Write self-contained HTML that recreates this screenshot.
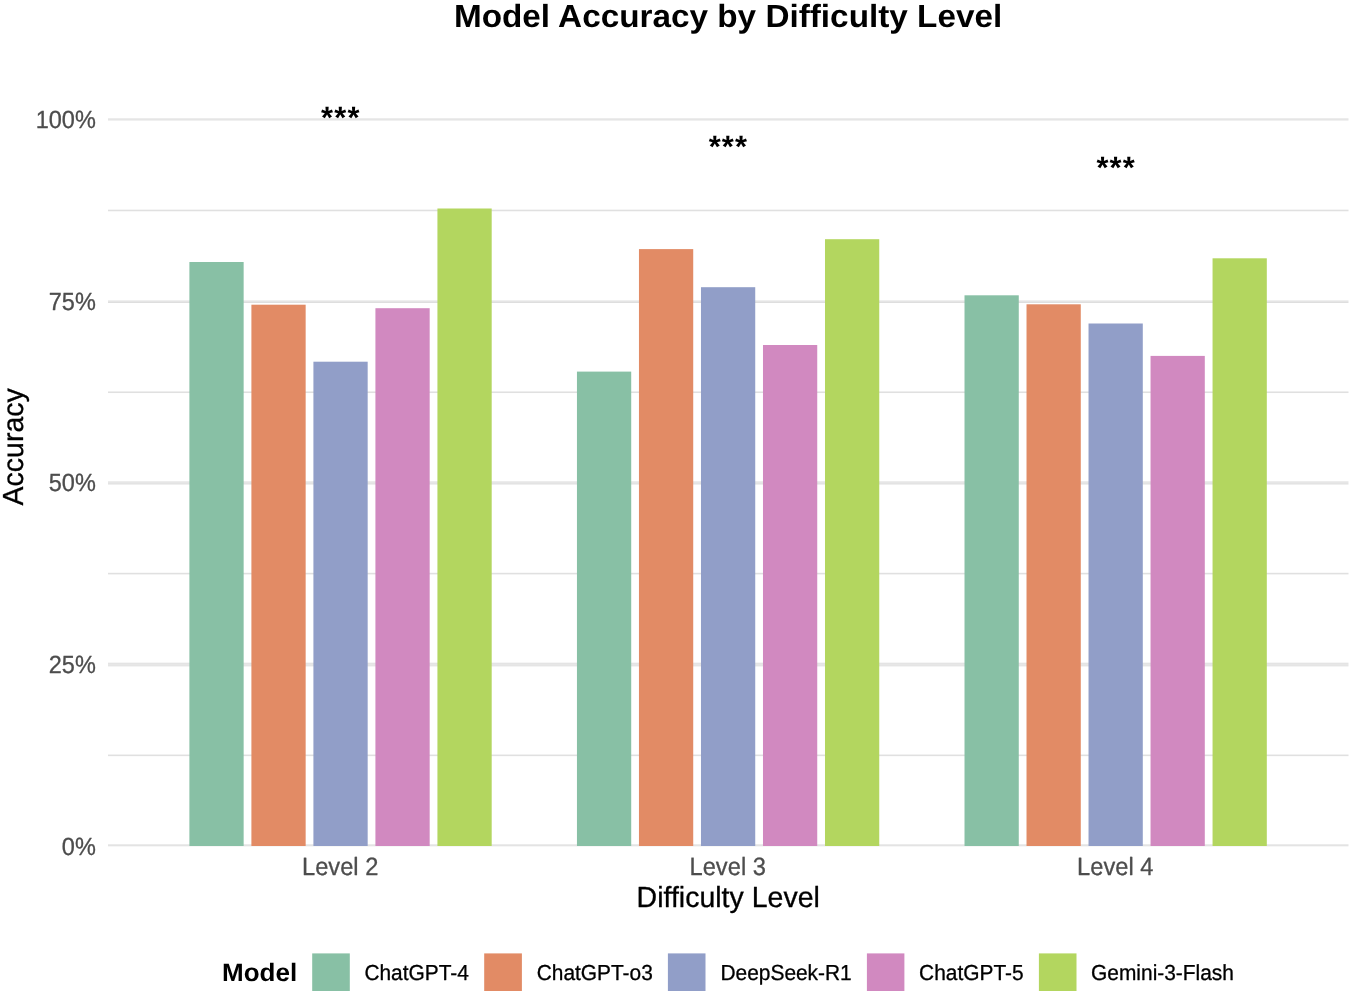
<!DOCTYPE html>
<html><head><meta charset="utf-8"><title>Model Accuracy by Difficulty Level</title>
<style>html,body{margin:0;padding:0;background:#fff;}body{width:1351px;height:994px;overflow:hidden;}
svg{display:block;will-change:transform;transform:translateZ(0);}text{font-family:"Liberation Sans", sans-serif;text-rendering:geometricPrecision;}</style></head><body>
<svg width="1351" height="994" viewBox="0 0 1351 994" role="img" aria-label="Grouped bar chart: model accuracy by difficulty level">
<rect x="0" y="0" width="1351" height="994" fill="#ffffff"/>
<g id="grid">
<rect x="108.0" y="209.66" width="1240.5" height="1.6" fill="#e0e0e0"/>
<rect x="108.0" y="391.46" width="1240.5" height="1.6" fill="#e0e0e0"/>
<rect x="108.0" y="572.80" width="1240.5" height="1.6" fill="#e0e0e0"/>
<rect x="108.0" y="754.54" width="1240.5" height="1.6" fill="#e0e0e0"/>
<rect x="108.0" y="118" width="1240.5" height="1" fill="#ececec"/>
<rect x="108.0" y="119" width="1240.5" height="1" fill="#e5e5e5"/>
<rect x="108.0" y="120" width="1240.5" height="1" fill="#f0f0f0"/>
<rect x="108.0" y="300" width="1240.5" height="1" fill="#efefef"/>
<rect x="108.0" y="301" width="1240.5" height="1" fill="#e5e5e5"/>
<rect x="108.0" y="302" width="1240.5" height="1" fill="#dedede"/>
<rect x="108.0" y="481" width="1240.5" height="1" fill="#ececec"/>
<rect x="108.0" y="482" width="1240.5" height="1" fill="#e6e6e6"/>
<rect x="108.0" y="483" width="1240.5" height="1" fill="#e3e3e3"/>
<rect x="108.0" y="484" width="1240.5" height="1" fill="#efefef"/>
<rect x="108.0" y="662" width="1240.5" height="1" fill="#f6f6f6"/>
<rect x="108.0" y="663" width="1240.5" height="1" fill="#e4e4e4"/>
<rect x="108.0" y="664" width="1240.5" height="1" fill="#e7e7e7"/>
<rect x="108.0" y="665" width="1240.5" height="1" fill="#e5e5e5"/>
<rect x="108.0" y="666" width="1240.5" height="1" fill="#f4f4f4"/>
<rect x="108.0" y="844" width="1240.5" height="1" fill="#ebebeb"/>
<rect x="108.0" y="845" width="1240.5" height="1" fill="#e3e3e3"/>
<rect x="108.0" y="846" width="1240.5" height="1" fill="#f6f6f6"/>
</g>
<g id="bars">
<rect x="189.39" y="262.00" width="54.26" height="584.00" fill="#88C0A5"/>
<rect x="251.40" y="304.70" width="54.26" height="541.30" fill="#E28B65"/>
<rect x="313.41" y="361.70" width="54.26" height="484.30" fill="#919EC8"/>
<rect x="375.42" y="308.20" width="54.26" height="537.80" fill="#D189C0"/>
<rect x="437.43" y="208.50" width="54.26" height="637.50" fill="#B3D65F"/>
<rect x="576.95" y="371.60" width="54.26" height="474.40" fill="#88C0A5"/>
<rect x="638.96" y="249.10" width="54.26" height="596.90" fill="#E28B65"/>
<rect x="700.97" y="287.20" width="54.26" height="558.80" fill="#919EC8"/>
<rect x="762.98" y="345.00" width="54.26" height="501.00" fill="#D189C0"/>
<rect x="824.99" y="239.20" width="54.26" height="606.80" fill="#B3D65F"/>
<rect x="964.51" y="295.30" width="54.26" height="550.70" fill="#88C0A5"/>
<rect x="1026.52" y="304.30" width="54.26" height="541.70" fill="#E28B65"/>
<rect x="1088.53" y="323.50" width="54.26" height="522.50" fill="#919EC8"/>
<rect x="1150.54" y="355.90" width="54.26" height="490.10" fill="#D189C0"/>
<rect x="1212.55" y="258.30" width="54.26" height="587.70" fill="#B3D65F"/>
</g>
<g id="labels">
<text transform="translate(728.05,27.30) scale(1,0.960)" font-size="33.3" text-anchor="middle" fill="#000" font-weight="bold">Model Accuracy by Difficulty Level</text>
<text transform="translate(95.80,127.90) scale(1,1.060)" font-size="23.5" text-anchor="end" fill="#4d4d4d" stroke="#4d4d4d" stroke-width="0.3" stroke-linejoin="round">100%</text>
<text transform="translate(95.80,309.60) scale(1,1.060)" font-size="23.5" text-anchor="end" fill="#4d4d4d" stroke="#4d4d4d" stroke-width="0.3" stroke-linejoin="round">75%</text>
<text transform="translate(95.80,491.20) scale(1,1.060)" font-size="23.5" text-anchor="end" fill="#4d4d4d" stroke="#4d4d4d" stroke-width="0.3" stroke-linejoin="round">50%</text>
<text transform="translate(95.80,673.10) scale(1,1.060)" font-size="23.5" text-anchor="end" fill="#4d4d4d" stroke="#4d4d4d" stroke-width="0.3" stroke-linejoin="round">25%</text>
<text transform="translate(95.80,854.90) scale(1,1.060)" font-size="23.5" text-anchor="end" fill="#4d4d4d" stroke="#4d4d4d" stroke-width="0.3" stroke-linejoin="round">0%</text>
<text transform="translate(340.14,875.40) scale(1,1.055)" font-size="23.7" text-anchor="middle" fill="#4d4d4d" stroke="#4d4d4d" stroke-width="0.3" stroke-linejoin="round">Level 2</text>
<text transform="translate(727.70,875.40) scale(1,1.055)" font-size="23.7" text-anchor="middle" fill="#4d4d4d" stroke="#4d4d4d" stroke-width="0.3" stroke-linejoin="round">Level 3</text>
<text transform="translate(1115.26,875.40) scale(1,1.055)" font-size="23.7" text-anchor="middle" fill="#4d4d4d" stroke="#4d4d4d" stroke-width="0.3" stroke-linejoin="round">Level 4</text>
<text transform="translate(728.20,907.00) scale(1,1.020)" font-size="28.5" text-anchor="middle" fill="#000" stroke="#000" stroke-width="0.3" stroke-linejoin="round">Difficulty Level</text>
<text transform="translate(23.20,446.80) rotate(-90) scale(1,1.020)" font-size="28.5" text-anchor="middle" fill="#000" stroke="#000" stroke-width="0.3" stroke-linejoin="round">Accuracy</text>
<text transform="translate(321.06,128.05)" font-size="30.8" text-anchor="start" fill="#000" font-weight="bold" letter-spacing="1.19">***</text>
<text transform="translate(708.66,156.80)" font-size="30.8" text-anchor="start" fill="#000" font-weight="bold" letter-spacing="1.19">***</text>
<text transform="translate(1096.40,178.20)" font-size="30.8" text-anchor="start" fill="#000" font-weight="bold" letter-spacing="1.19">***</text>
</g>
<g id="legend">
<text transform="translate(222.00,981.10) scale(1,0.970)" font-size="26" text-anchor="start" fill="#000" font-weight="bold">Model</text>
<rect x="312.2" y="953.4" width="37.6" height="37.6" fill="#88C0A5"/>
<text transform="translate(364.40,980.10) scale(1,1.040)" font-size="20.9" text-anchor="start" fill="#000" stroke="#000" stroke-width="0.3" stroke-linejoin="round">ChatGPT-4</text>
<rect x="484.2" y="953.4" width="37.7" height="37.6" fill="#E28B65"/>
<text transform="translate(536.70,980.10) scale(1,1.040)" font-size="20.9" text-anchor="start" fill="#000" stroke="#000" stroke-width="0.3" stroke-linejoin="round">ChatGPT-o3</text>
<rect x="667.9" y="953.4" width="37.6" height="37.6" fill="#919EC8"/>
<text transform="translate(720.50,980.10) scale(1,1.040)" font-size="20.9" text-anchor="start" fill="#000" stroke="#000" stroke-width="0.3" stroke-linejoin="round">DeepSeek-R1</text>
<rect x="866.9" y="953.4" width="37.5" height="37.6" fill="#D189C0"/>
<text transform="translate(919.10,980.10) scale(1,1.040)" font-size="20.9" text-anchor="start" fill="#000" stroke="#000" stroke-width="0.3" stroke-linejoin="round">ChatGPT-5</text>
<rect x="1038.9" y="953.4" width="37.6" height="37.6" fill="#B3D65F"/>
<text transform="translate(1091.10,980.10) scale(1,1.040)" font-size="20.9" text-anchor="start" fill="#000" stroke="#000" stroke-width="0.3" stroke-linejoin="round">Gemini-3-Flash</text>
</g>
</svg></body></html>
